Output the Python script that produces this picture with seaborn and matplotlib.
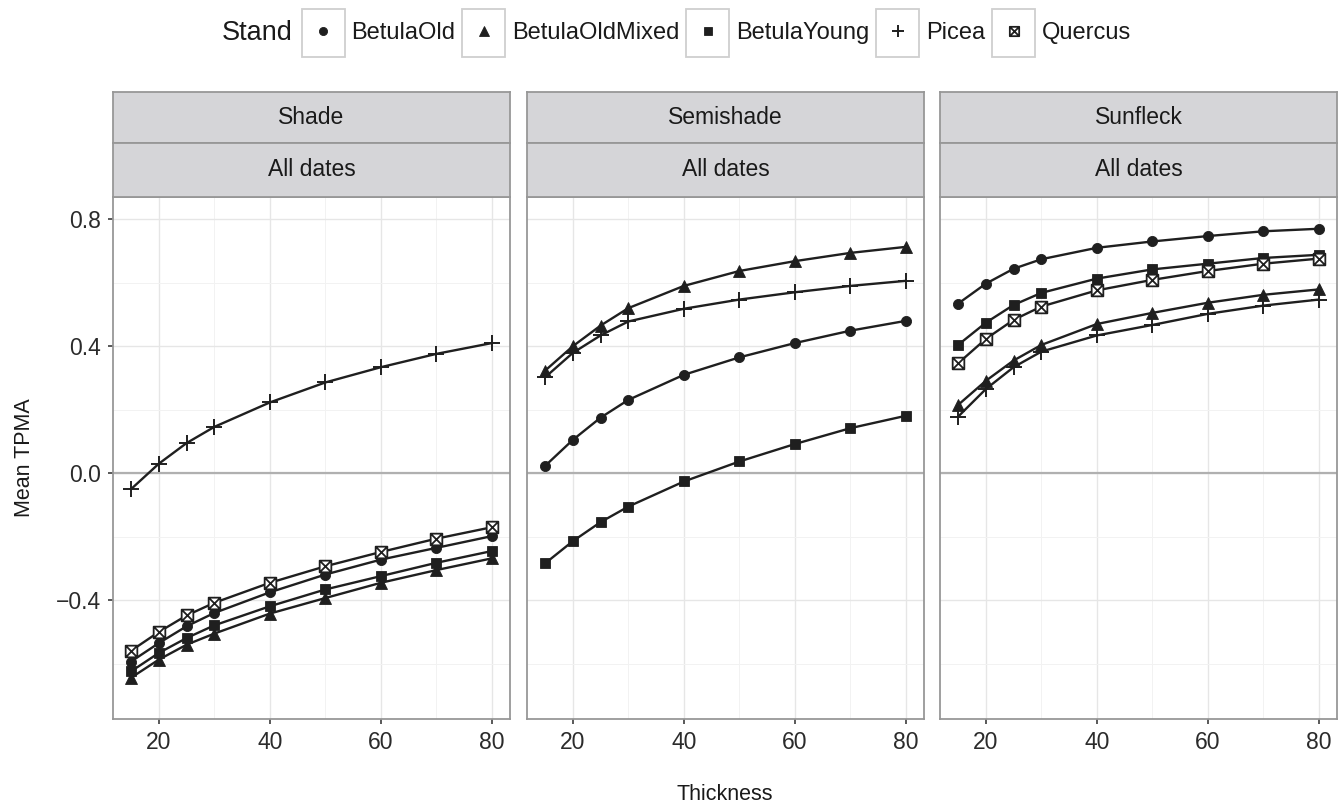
import pandas as pd
import seaborn as sns
import matplotlib.pyplot as plt
from matplotlib.path import Path
from matplotlib.lines import Line2D
from matplotlib.patches import Rectangle
from matplotlib.ticker import FuncFormatter

# ---------------- data ----------------
THICKNESS = [15, 20, 25, 30, 40, 50, 60, 70, 80]
STANDS = ["BetulaOld", "BetulaOldMixed", "BetulaYoung", "Picea", "Quercus"]
LIGHTS = ["Shade", "Semishade", "Sunfleck"]

# Shade
shade_betula_old = [-0.593, -0.535, -0.482, -0.440, -0.375, -0.319, -0.272, -0.235, -0.198]
shade_betula_old_mixed = [-0.644, -0.587, -0.540, -0.505, -0.442, -0.393, -0.345, -0.305, -0.268]
shade_betula_young = [-0.624, -0.566, -0.519, -0.479, -0.419, -0.366, -0.324, -0.282, -0.245]
shade_picea = [-0.050, 0.030, 0.095, 0.146, 0.223, 0.286, 0.334, 0.376, 0.410]
shade_quercus = [-0.559, -0.500, -0.448, -0.408, -0.345, -0.293, -0.248, -0.206, -0.170]

# Semishade
semi_betula_old = [0.023, 0.105, 0.175, 0.231, 0.310, 0.365, 0.410, 0.449, 0.480]
semi_betula_old_mixed = [0.323, 0.400, 0.465, 0.520, 0.590, 0.637, 0.668, 0.694, 0.713]
semi_betula_young = [-0.284, -0.214, -0.154, -0.105, -0.026, 0.037, 0.092, 0.142, 0.181]
semi_picea = [0.302, 0.379, 0.434, 0.478, 0.518, 0.547, 0.570, 0.590, 0.606]

# Sunfleck
sun_betula_old = [0.534, 0.597, 0.644, 0.674, 0.710, 0.730, 0.747, 0.762, 0.770]
sun_betula_old_mixed = [0.215, 0.291, 0.355, 0.404, 0.470, 0.505, 0.537, 0.562, 0.579]
sun_betula_young = [0.404, 0.474, 0.530, 0.568, 0.613, 0.642, 0.660, 0.678, 0.688]
sun_picea = [0.178, 0.265, 0.334, 0.383, 0.434, 0.467, 0.502, 0.528, 0.547]
sun_quercus = [0.346, 0.423, 0.483, 0.525, 0.576, 0.609, 0.637, 0.660, 0.676]

SERIES = {
    ("Shade", "BetulaOld"): shade_betula_old,
    ("Shade", "BetulaOldMixed"): shade_betula_old_mixed,
    ("Shade", "BetulaYoung"): shade_betula_young,
    ("Shade", "Picea"): shade_picea,
    ("Shade", "Quercus"): shade_quercus,
    ("Semishade", "BetulaOld"): semi_betula_old,
    ("Semishade", "BetulaOldMixed"): semi_betula_old_mixed,
    ("Semishade", "BetulaYoung"): semi_betula_young,
    ("Semishade", "Picea"): semi_picea,
    ("Sunfleck", "BetulaOld"): sun_betula_old,
    ("Sunfleck", "BetulaOldMixed"): sun_betula_old_mixed,
    ("Sunfleck", "BetulaYoung"): sun_betula_young,
    ("Sunfleck", "Picea"): sun_picea,
    ("Sunfleck", "Quercus"): sun_quercus,
}

rows = []
for (light, stand), vals in SERIES.items():
    for t, v in zip(THICKNESS, vals):
        rows.append({"Light": light, "Stand": stand, "Thickness": t, "TPMA": v})
df = pd.DataFrame(rows)

# ---------------- style ----------------
sns.set_theme(style="white")
plt.rcParams["font.family"] = ["Liberation Sans", "DejaVu Sans"]

LINE = "#1f1f1f"
BORDER = "#979797"
STRIP_FILL = "#d5d5d8"
TICK_COL = "#2b2b2b"
FS_TICK = 16.5
FS_STRIP = 16.5
FS_LEG = 17
FS_TITLE = 15.5

# "+" and "boxed x" as custom paths so seaborn/matplotlib treat them like filled markers
PLUS = Path([(-1, 0), (1, 0), (0, -1), (0, 1)],
            [Path.MOVETO, Path.LINETO, Path.MOVETO, Path.LINETO])
BOX_X = Path([(-1, -1), (1, -1), (1, 1), (-1, 1), (-1, -1),
              (-1, -1), (1, 1), (-1, 1), (1, -1)],
             [Path.MOVETO, Path.LINETO, Path.LINETO, Path.LINETO, Path.CLOSEPOLY,
              Path.MOVETO, Path.LINETO, Path.MOVETO, Path.LINETO])

# marker, size, face, edge width
MARKERS = {
    "BetulaOld": ("o", 7.3, LINE, 0.6),
    "BetulaOldMixed": ("^", 9.0, LINE, 0.6),
    "BetulaYoung": ("s", 7.8, LINE, 0.6),
    "Picea": (PLUS, 11.0, LINE, 1.4),
    "Quercus": (BOX_X, 8.4, "white", 1.3),
}

W, H = 1341, 809
fig = plt.figure(figsize=(W / 100, H / 100), dpi=100)

PANEL_LEFT = [113, 527, 940]
PANEL_W = 397
PANEL_TOP, PANEL_BOT = 197, 719
STRIP_MID, STRIP_TOP = 143, 92
LEGEND_Y = 33
YLIM = (-0.774, 0.870)
XLIM = (11.75, 83.25)


def fx(px):
    return px / W


def fy(py):
    return 1 - py / H


fmt = FuncFormatter(lambda v, _: f"{v:.1f}".replace("-", "\u2212"))

for i, light in enumerate(LIGHTS):
    x0 = fx(PANEL_LEFT[i])
    ax = fig.add_axes([x0, fy(PANEL_BOT), fx(PANEL_W), fy(PANEL_TOP) - fy(PANEL_BOT)])
    sub = df[df["Light"] == light]

    ax.axhline(0, color="#b0b0b0", lw=1.6, zorder=1.5)
    for stand in STANDS:
        d = sub[sub["Stand"] == stand]
        if d.empty:
            continue
        m, ms, fc, mew = MARKERS[stand]
        sns.lineplot(data=d, x="Thickness", y="TPMA", ax=ax, color=LINE,
                     linewidth=1.7, marker=m, markersize=ms, markerfacecolor=fc,
                     markeredgecolor=LINE, markeredgewidth=mew, errorbar=None,
                     legend=False, zorder=3)

    ax.set_xlim(*XLIM)
    ax.set_ylim(*YLIM)
    ax.set_xticks([20, 40, 60, 80])
    ax.set_xticks([30, 50, 70], minor=True)
    ax.set_yticks([-0.4, 0.0, 0.4, 0.8])
    ax.set_yticks([-0.6, -0.2, 0.2, 0.6], minor=True)
    ax.grid(which="major", color="#e6e6e6", lw=1.0, zorder=0)
    ax.grid(which="minor", color="#f2f2f2", lw=0.7, zorder=0)
    ax.set_axisbelow(True)
    ax.set_xlabel("")
    ax.set_ylabel("")
    ax.tick_params(which="major", direction="out", length=3.6, width=1.1,
                   color=TICK_COL, labelsize=FS_TICK, labelcolor=TICK_COL, pad=5,
                   bottom=True, left=(i == 0), labelleft=(i == 0))
    ax.tick_params(which="minor", length=0)
    ax.yaxis.set_major_formatter(fmt)
    for sp in ax.spines.values():
        sp.set_color(BORDER)
        sp.set_linewidth(1.3)
        sp.set_visible(True)

    # two-row facet strips
    for top, bot, txt in [(STRIP_TOP, STRIP_MID, light), (STRIP_MID, PANEL_TOP, "All dates")]:
        sax = fig.add_axes([x0, fy(bot), fx(PANEL_W), fy(top) - fy(bot)])
        sax.set_facecolor(STRIP_FILL)
        sax.set_xticks([])
        sax.set_yticks([])
        for sp in sax.spines.values():
            sp.set_color(BORDER)
            sp.set_linewidth(1.3)
            sp.set_visible(True)
        sax.text(0.5, 0.5, txt, ha="center", va="center", fontsize=FS_STRIP,
                 color="#1a1a1a", transform=sax.transAxes)

fig.text(fx(25), fy((PANEL_TOP + PANEL_BOT) / 2), "Mean TPMA", rotation=90,
         ha="center", va="center", fontsize=FS_TITLE, color="#1a1a1a")
fig.text(fx((PANEL_LEFT[0] + PANEL_LEFT[2] + PANEL_W) / 2), fy(795), "Thickness",
         ha="center", va="center", fontsize=FS_TITLE, color="#1a1a1a")

# ---------------- legend (ggplot-style boxed keys) ----------------
handles = []
for stand in STANDS:
    m, ms, fc, mew = MARKERS[stand]
    handles.append(Line2D([], [], linestyle="none", marker=m, markersize=ms * 0.8,
                          markerfacecolor=fc, markeredgecolor=LINE,
                          markeredgewidth=mew))
leg = fig.legend(handles, STANDS, loc="center", bbox_to_anchor=(fx(716), fy(LEGEND_Y)),
                 ncol=5, frameon=False, fontsize=FS_LEG, handlelength=1.9,
                 handletextpad=0.25, columnspacing=0.25, numpoints=1,
                 borderpad=0, borderaxespad=0)
for t in leg.get_texts():
    t.set_color("#1a1a1a")

fig.canvas.draw()
renderer = fig.canvas.get_renderer()
box_w, box_h = 43, 47
cy = H - LEGEND_Y  # display coords, origin at bottom
first_left = None
for h in leg.legend_handles:
    bb = h.get_window_extent(renderer)
    cx = (bb.x0 + bb.x1) / 2
    fig.add_artist(Rectangle((fx(cx - box_w / 2), (cy - box_h / 2) / H),
                             fx(box_w), box_h / H, transform=fig.transFigure,
                             facecolor="none", edgecolor="#cfcfcf", lw=1.3))
    if first_left is None:
        first_left = fx(cx - box_w / 2)

fig.text(first_left - fx(9), fy(LEGEND_Y), "Stand", ha="right", va="center",
         fontsize=19.5, color="#1a1a1a")

fig.savefig("out.png", dpi=100)
